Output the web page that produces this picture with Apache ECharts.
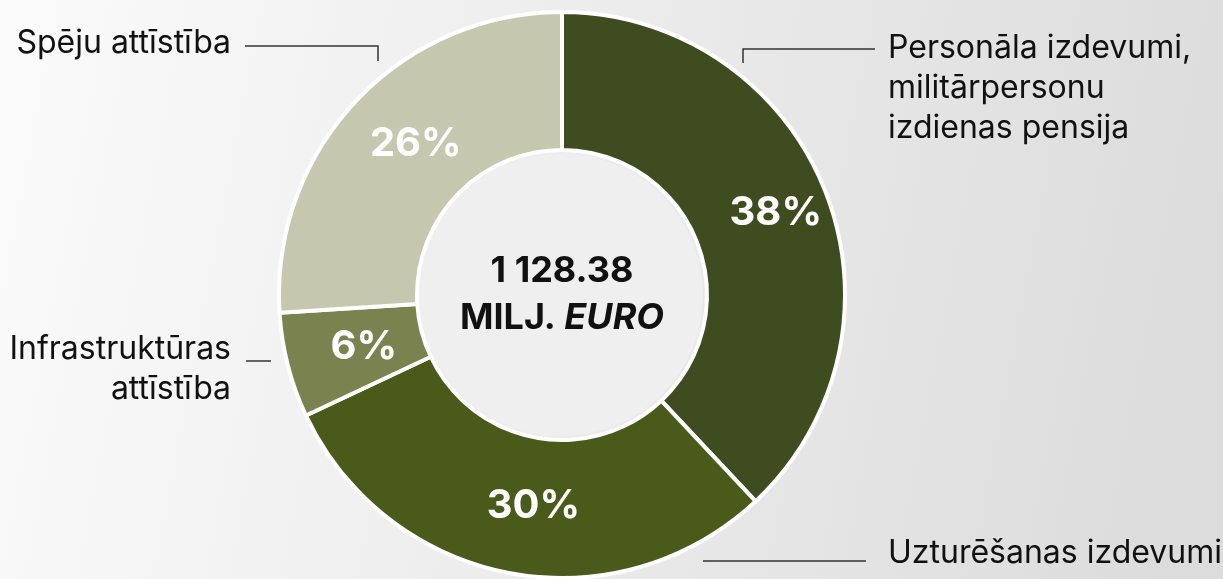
<!DOCTYPE html>
<html>
<head>
<meta charset="utf-8">
<script src="https://cdn.jsdelivr.net/npm/echarts@6/dist/echarts.min.js"></script>
<style>
  html, body { margin: 0; padding: 0; }
  #chart { width: 1223px; height: 579px; }
</style>
</head>
<body>
<div id="chart"></div>
<script>
// kategorijas un daļas (%)
const categories = [
  'Personāla izdevumi,\nmilitārpersonu\nizdienas pensija',
  'Uzturēšanas izdevumi',
  'Infrastruktūras\nattīstība',
  'Spēju attīstība'
];
const shares = [38, 30, 6, 26];
const sliceColors = ['#3f4c1f', '#4a5a1b', '#7a8350', '#c5c7af'];
const totalLabel = '1 128.38';
const unitLabel = 'MILJ.';
const unitItalic = 'EURO';

// ārējo uzrakstu izvietojums un līnijas
const outerLabels = [
  { x: 888, y: 88, align: 'left', line: [[743, 63], [743, 49], [875, 49]] },
  { x: 888, y: 553, align: 'left', line: [[703, 561], [866, 561]] },
  { x: 231, y: 369, align: 'right', line: [[246, 361], [271, 361]] },
  { x: 231, y: 43, align: 'right', line: [[245, 46], [378, 46], [378, 61]] }
];

const chart = echarts.init(document.getElementById('chart'), null, { renderer: 'canvas' });

const graphic = [];
outerLabels.forEach((o, i) => {
  graphic.push({
    type: 'polyline',
    shape: { points: o.line },
    style: { stroke: '#333333', lineWidth: 1.5, fill: null },
    z: 10
  });
  graphic.push({
    type: 'text',
    x: o.x,
    y: o.y,
    style: {
      text: categories[i],
      fontFamily: 'Inter',
      fontSize: 32,
      lineHeight: 40,
      fill: '#111111',
      align: o.align,
      verticalAlign: 'middle'
    },
    z: 10
  });
});

chart.setOption({
  backgroundColor: {
    type: 'linear', x: 0, y: 0, x2: 1, y2: 0.4,
    colorStops: [
      { offset: 0, color: '#fbfbfb' },
      { offset: 1, color: '#dcdcdc' }
    ]
  },
  animation: false,
  graphic: graphic,
  series: [
    {
      type: 'pie',
      center: [562, 295],
      radius: [145, 283],
      startAngle: 90,
      clockwise: true,
      silent: true,
      itemStyle: { borderColor: '#ffffff', borderWidth: 4 },
      label: {
        show: true,
        position: 'inside',
        formatter: '{c}%',
        color: '#ffffff',
        fontFamily: 'Inter',
        fontWeight: 'bold',
        fontSize: 40,
        offset: [12, -2]
      },
      labelLine: { show: false },
      data: shares.map((v, i) => ({
        name: categories[i],
        value: v,
        itemStyle: { color: sliceColors[i] }
      }))
    },
    {
      type: 'pie',
      center: [562, 295],
      radius: [0, 141],
      silent: true,
      itemStyle: { color: '#efefef' },
      label: {
        show: true,
        position: 'center',
        formatter: '{a|' + totalLabel + '}\n{a|' + unitLabel + ' }{i|' + unitItalic + '}',
        rich: {
          a: { fontFamily: 'Inter', fontWeight: 'bold', fontSize: 36, color: '#111111', lineHeight: 47 },
          i: { fontFamily: 'Inter', fontWeight: 'bold', fontStyle: 'italic', fontSize: 36, color: '#111111', lineHeight: 47 }
        }
      },
      labelLine: { show: false },
      data: [{ name: 'kopā', value: 1 }]
    }
  ]
});
</script>
</body>
</html>
